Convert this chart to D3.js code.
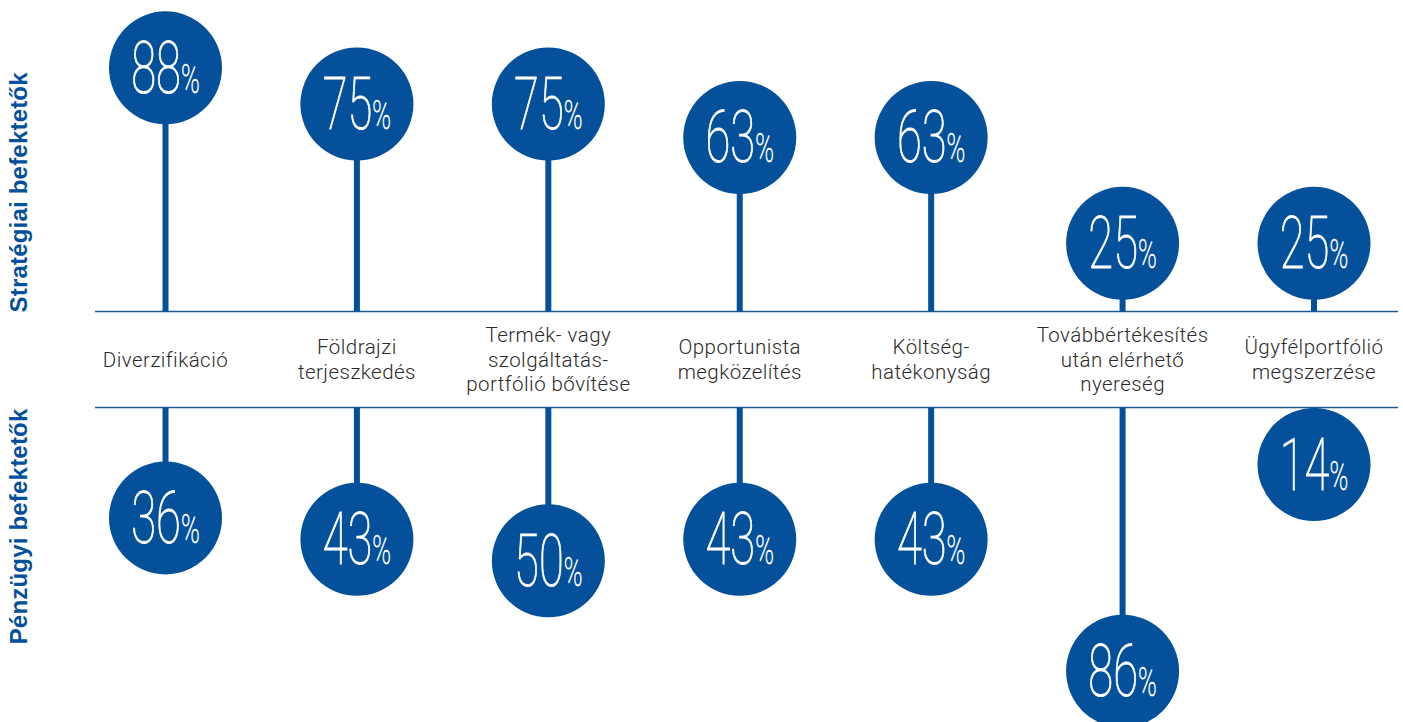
<!DOCTYPE html>
<html>
<head>
<meta charset="utf-8">
<script src="https://cdn.jsdelivr.net/npm/d3@7"></script>
<style>
  html, body { margin: 0; padding: 0; background: #ffffff; }
  svg { display: block; }
</style>
</head>
<body>
<svg id="chart" width="1403" height="722"></svg>
<script>
// Motivations of buyers, split by investor type (share of respondents, %)
const categories = [
  "Diverzifikáció",
  "Földrajzi\nterjeszkedés",
  "Termék- vagy\nszolgáltatás-\nportfólió bővítése",
  "Opportunista\nmegközelítés",
  "Költség-\nhatékonyság",
  "Továbbértékesítés\nután elérhető\nnyereség",
  "Ügyfélportfólió\nmegszerzése"
];
const strategicValues = [88, 75, 75, 63, 63, 25, 25];
const financialValues = [36, 43, 50, 43, 43, 86, 14];
const groupLabels = ["Stratégiai befektetők", "Pénzügyi befektetők"];

const BLUE = "#04509a";
const svg = d3.select("#chart");

// layout
const axisTopY = 311.5;
const axisBottomY = 407.5;
const radius = 56.5;

const x = d3.scalePoint().domain(categories).range([165.5, 1314]);
const yTop = d3.scaleLinear().domain([0, 100]).range([313, 34.4]);
const yBottom = d3.scaleLinear().domain([0, 100]).range([axisBottomY, axisBottomY + 306.6]);

// bottom bubbles never cross the lower rule
const bottomCy = v => Math.max(yBottom(v), axisBottomY + radius + 0.5);

const topData = categories.map((c, i) => ({ c, v: strategicValues[i], cy: yTop(strategicValues[i]), base: axisTopY }));
const bottomData = categories.map((c, i) => ({ c, v: financialValues[i], cy: bottomCy(financialValues[i]), base: axisBottomY }));
const all = topData.concat(bottomData);

// horizontal rules framing the category band
svg.selectAll("line.rule")
  .data([axisTopY, axisBottomY])
  .join("line")
  .attr("class", "rule")
  .attr("x1", 95).attr("x2", 1398)
  .attr("y1", d => d).attr("y2", d => d)
  .attr("stroke", "#1f5a93")
  .attr("stroke-width", 1.6);

// stems
svg.selectAll("line.stem")
  .data(all)
  .join("line")
  .attr("class", "stem")
  .attr("x1", d => x(d.c)).attr("x2", d => x(d.c))
  .attr("y1", d => d.base).attr("y2", d => d.cy)
  .attr("stroke", BLUE)
  .attr("stroke-width", 6);

// bubbles
svg.selectAll("circle.bubble")
  .data(all)
  .join("circle")
  .attr("class", "bubble")
  .attr("cx", d => x(d.c))
  .attr("cy", d => d.cy)
  .attr("r", radius)
  .attr("fill", BLUE);

// value labels in condensed light type
const vals = svg.selectAll("text.value")
  .data(all)
  .join("text")
  .attr("class", "value")
  .attr("transform", d => `translate(${x(d.c)},${d.cy + 25}) scale(0.63,1)`)
  .attr("text-anchor", "middle")
  .attr("fill", "#ffffff")
  .attr("stroke", "#ffffff")
  .attr("stroke-width", 1)
  .attr("paint-order", "stroke")
  .style("font-family", "Roboto, 'Liberation Sans', sans-serif")
  .style("font-weight", 100);
vals.append("tspan").attr("font-size", 72).text(d => d.v);
vals.append("tspan").attr("font-size", 40).attr("stroke-width", 0.7).text("%");

// category labels, vertically centred between the rules
const bandMid = (axisTopY + axisBottomY) / 2;
const lineH = 24.5;
const catText = svg.selectAll("text.cat")
  .data(categories)
  .join("text")
  .attr("class", "cat")
  .attr("text-anchor", "middle")
  .attr("fill", "#2b2b2b")
  .style("font-family", "Roboto, 'Liberation Sans', sans-serif")
  .style("font-weight", 300)
  .style("font-size", "20.5px")
  .style("letter-spacing", "0.45px");
catText.each(function (d) {
  const lines = d.split("\n");
  const first = bandMid - (lines.length - 1) * lineH / 2 + 7;
  d3.select(this).selectAll("tspan")
    .data(lines)
    .join("tspan")
    .attr("x", x(d))
    .attr("y", (l, i) => first + i * lineH)
    .text(l => l);
});

// group titles along the left edge
svg.selectAll("text.group")
  .data(groupLabels)
  .join("text")
  .attr("class", "group")
  .attr("transform", (d, i) => `translate(27,${i === 0 ? axisTopY + 1 : axisBottomY + 1}) rotate(-90)`)
  .attr("text-anchor", (d, i) => i === 0 ? "start" : "end")
  .attr("fill", BLUE)
  .style("font-family", "'Liberation Sans', Arial, sans-serif")
  .style("font-weight", 700)
  .style("font-size", "24px")
  .style("letter-spacing", "0.2px")
  .text(d => d);
</script>
</body>
</html>
